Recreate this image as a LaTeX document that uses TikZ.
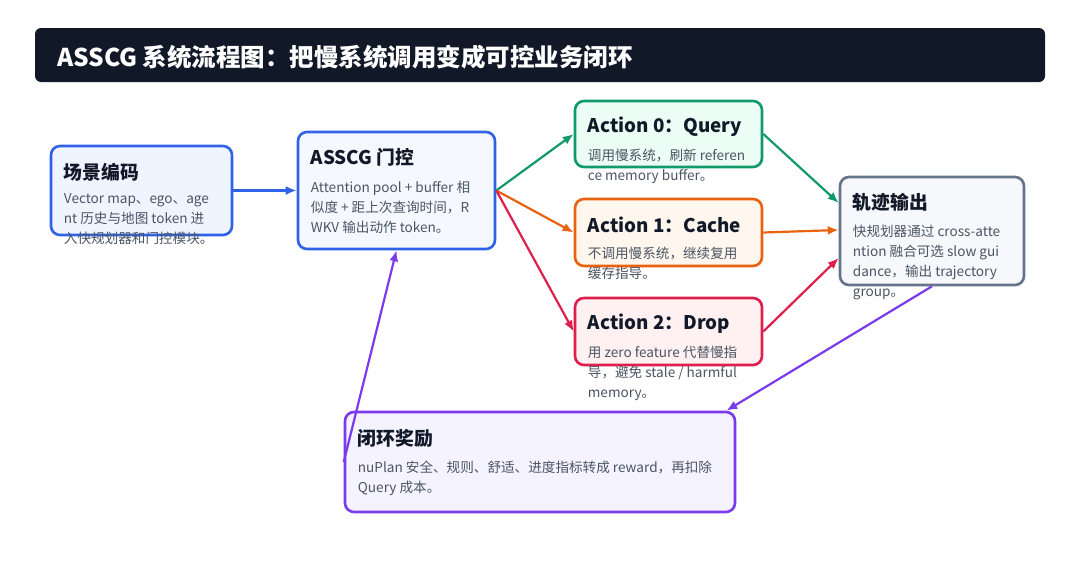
\documentclass[tikz,border=0pt]{standalone}
\usepackage{fontspec}
\setmainfont{Noto Sans CJK SC}
\usepackage{xcolor}
\usetikzlibrary{arrows.meta, positioning, calc}

\definecolor{ink}{HTML}{111827}
\definecolor{bodygray}{HTML}{4B5563}
\definecolor{bluecol}{HTML}{2F62E6}
\definecolor{bluefill}{HTML}{EFF5FF}
\definecolor{gatefill}{HTML}{F5F9FF}
\definecolor{greencol}{HTML}{109A6C}
\definecolor{greenfill}{HTML}{ECFDF5}
\definecolor{orangecol}{HTML}{EA620F}
\definecolor{orangefill}{HTML}{FFF7ED}
\definecolor{redcol}{HTML}{DE1E4C}
\definecolor{redfill}{HTML}{FFF1F2}
\definecolor{slatecol}{HTML}{64748B}
\definecolor{slatefill}{HTML}{F6F8FB}
\definecolor{purplecol}{HTML}{7C3AED}
\definecolor{purplefill}{HTML}{F5F3FF}

\begin{document}
\begin{tikzpicture}[
    x=1pt, y=-1pt,
    box/.style={draw, line width=2.6pt, rounded corners=9pt, inner sep=0pt},
    boxtitle/.style={anchor=west, font=\fontsize{18.8}{21}\selectfont\bfseries, text=ink, inner sep=0pt},
    boxtext/.style={anchor=north west, align=left, font=\fontsize{13.6}{20}\selectfont, text=bodygray, inner sep=0pt},
    flow/.style={line width=2.2pt, -{Latex[length=11pt,width=9pt]}}
]
    \useasboundingbox[fill=white] (0,0) rectangle (1080,581);

    % Title bar
    \node[fill=ink, rounded corners=6pt, minimum width=1010pt, minimum height=54pt, inner sep=0pt] (header) at (540,55) {};
    \node[anchor=west, text=white, font=\fontsize{24.5}{26}\selectfont\bfseries, inner sep=0pt] (headertext) at (57,57) {ASSCG 系统流程图：把慢系统调用变成可控业务闭环};

    % Scene encoding
    \node[box, draw=bluecol, fill=bluefill, minimum width=181pt, minimum height=89pt] (scene) at (141.5,190.5) {};
    \node[boxtitle] (scenetitle) at ($(scene.north west) + (14,28)$) {场景编码};
    \node[boxtext] (scenetext) at ($(scene.north west) + (14,49)$) {Vector map、ego、age\\nt 历史与地图 token 进\\入快规划器和门控模块。};

    % ASSCG gate
    \node[box, draw=bluecol, fill=gatefill, minimum width=197pt, minimum height=117pt] (gate) at (396.5,190.5) {};
    \node[boxtitle] (gatetitle) at ($(gate.north west) + (14,27)$) {ASSCG 门控};
    \node[boxtext] (gatetext) at ($(gate.north west) + (14,50)$) {Attention pool + buffer 相\\似度 + 距上次查询时间，R\\WKV 输出动作 token。};

    % Action 0 - query
    \node[box, draw=greencol, fill=greenfill, minimum width=187pt, minimum height=66pt] (query) at (668.5,134) {};
    \node[boxtitle] (querytitle) at ($(query.north west) + (14,27)$) {Action 0：Query};
    \node[boxtext] (querytext) at ($(query.north west) + (14,49)$) {调用慢系统，刷新 referen\\ce memory buffer。};

    % Action 1 - cache
    \node[box, draw=orangecol, fill=orangefill, minimum width=187pt, minimum height=67pt] (cache) at (668.5,232.5) {};
    \node[boxtitle] (cachetitle) at ($(cache.north west) + (14,27)$) {Action 1：Cache};
    \node[boxtext] (cachetext) at ($(cache.north west) + (14,49)$) {不调用慢系统，继续复用\\缓存指导。};

    % Action 2 - drop
    \node[box, draw=redcol, fill=redfill, minimum width=187pt, minimum height=67pt] (drop) at (668.5,331.5) {};
    \node[boxtitle] (droptitle) at ($(drop.north west) + (14,27)$) {Action 2：Drop};
    \node[boxtext] (droptext) at ($(drop.north west) + (14,49)$) {用 zero feature 代替慢指\\导，避免 stale / harmful\\memory。};

    % Trajectory output
    \node[box, draw=slatecol, fill=slatefill, minimum width=184pt, minimum height=108pt] (traj) at (932,231) {};
    \node[boxtitle] (trajtitle) at ($(traj.north west) + (14,27)$) {轨迹输出};
    \node[boxtext] (trajtext) at ($(traj.north west) + (14,49)$) {快规划器通过 cross-atte\\ntion 融合可选 slow gui\\dance，输出 trajectory\\group。};

    % Closed-loop reward
    \node[box, draw=purplecol, fill=purplefill, minimum width=390pt, minimum height=100pt] (reward) at (540,462) {};
    \node[boxtitle] (rewardtitle) at ($(reward.north west) + (14,28)$) {闭环奖励};
    \node[boxtext] (rewardtext) at ($(reward.north west) + (14,50)$) {nuPlan 安全、规则、舒适、进度指标转成 reward，再扣除\\Query 成本。};

    % Connectors
    \draw[flow, bluecol] (scene.east) -- (gate.west);
    \draw[flow, greencol] (gate.east) -- (query.west);
    \draw[flow, orangecol] (gate.east) -- (cache.west);
    \draw[flow, redcol] (gate.east) -- (drop.west);
    \draw[flow, greencol] (query.east) -- ($(traj.west) + (0,-28)$);
    \draw[flow, orangecol] (cache.east) -- ($(traj.west) + (0,-1)$);
    \draw[flow, redcol] (drop.east) -- ($(traj.west) + (0,27)$);
    \draw[flow, purplecol] (traj.south) -- ($(reward.north east) + (-10,0)$);
    \draw[flow, purplecol] (reward.west) -- (gate.south);
\end{tikzpicture}
\end{document}
